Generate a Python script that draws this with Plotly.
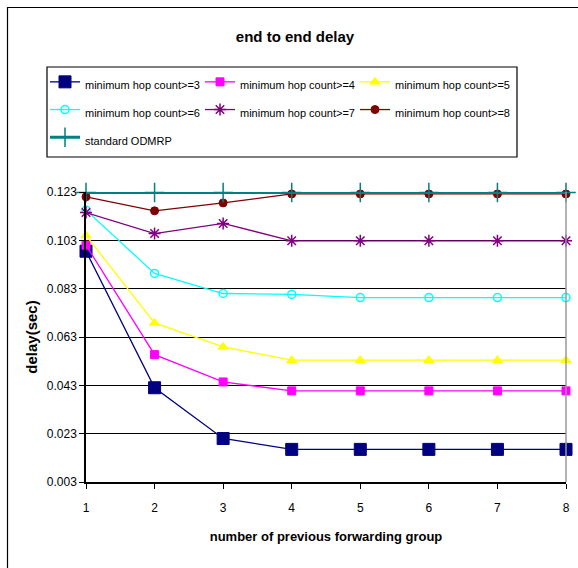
import plotly.graph_objects as go

x_vals = [1, 2, 3, 4, 5, 6, 7, 8]
hop3 = [0.0985, 0.0420, 0.0210, 0.0165, 0.0165, 0.0165, 0.0165, 0.0165]
hop4 = [0.1010, 0.0557, 0.0444, 0.0407, 0.0407, 0.0407, 0.0407, 0.0407]
hop5 = [0.1050, 0.0688, 0.0589, 0.0534, 0.0534, 0.0534, 0.0534, 0.0534]
hop6 = [0.1155, 0.0893, 0.0810, 0.0806, 0.0793, 0.0793, 0.0793, 0.0793]
hop7 = [0.1145, 0.1058, 0.1100, 0.1028, 0.1028, 0.1028, 0.1028, 0.1028]
hop8 = [0.1210, 0.1152, 0.1185, 0.1222, 0.1222, 0.1222, 0.1222, 0.1222]
standard = [0.1228, 0.1228, 0.1228, 0.1228, 0.1228, 0.1228, 0.1228, 0.1228]
y_ticks = [0.003, 0.023, 0.043, 0.063, 0.083, 0.103, 0.123]

FONT = "Liberation Sans, Arial, sans-serif"
LEG_TXT = '<span style="font-size:11px">{}</span>'

series = [
    ("minimum hop count>=3", hop3, "#000080", "square", 12, 1),
    ("minimum hop count>=4", hop4, "#FF00FF", "square", 8, 1),
    ("minimum hop count>=5", hop5, "#FFFF00", "triangle-up", 9, 1),
    ("minimum hop count>=6", hop6, "#00FFFF", "circle-open", 8, 1.5),
    ("minimum hop count>=7", hop7, "#800080", "asterisk-open", 10, 1.5),
    ("minimum hop count>=8", hop8, "#800000", "circle", 8, 1),
]

fig = go.Figure()
for name, ys, color, sym, size, lw in series:
    fig.add_trace(go.Scatter(
        x=x_vals, y=ys, name=LEG_TXT.format(name), mode="lines+markers",
        line=dict(color=color, width=1.3),
        marker=dict(symbol=sym, size=size, color=color,
                    line=dict(color=color, width=lw)),
        cliponaxis=False,
    ))
fig.add_trace(go.Scatter(
    x=x_vals, y=standard, name=LEG_TXT.format("standard ODMRP"), mode="lines+markers",
    line=dict(color="#008080", width=3),
    marker=dict(symbol="cross-thin-open", size=14, color="#008080",
                line=dict(color="#008080", width=1.5)),
    cliponaxis=False,
))

W, H = 578, 568
L, R, T, B = 86, 12, 192, 86
pw, ph = W - L - R, H - T - B

def px(xp):
    return (xp - L) / pw

def py(yp):
    return (H - B - yp) / ph

fig.update_layout(
    width=W, height=H,
    margin=dict(l=L, r=R, t=T, b=B, autoexpand=False),
    paper_bgcolor="white", plot_bgcolor="white",
    font=dict(family=FONT, color="black", size=12),
    title=dict(text="<b>end to end delay</b>", xref="container", x=295 / W,
               xanchor="center", yref="container", y=1 - 37 / H, yanchor="middle",
               font=dict(family=FONT, size=15, color="black")),
    showlegend=True,
    legend=dict(orientation="h", x=px(45), y=py(63), xanchor="left", yanchor="top",
                borderwidth=0, bgcolor="rgba(0,0,0,0)",
                font=dict(family=FONT, size=19, color="black"),
                entrywidth=110, entrywidthmode="pixels",
                tracegroupgap=0, itemwidth=30),
    xaxis=dict(range=[1, 8], tickmode="array", tickvals=x_vals,
               ticktext=[str(v) for v in x_vals],
               showgrid=False, zeroline=False,
               showline=True, linecolor="black", linewidth=1.5,
               ticks="outside", ticklen=5, tickcolor="black",
               ticklabelstandoff=9,
               tickfont=dict(family=FONT, size=12),
               title=dict(text="<b>number of previous forwarding group</b>",
                          font=dict(family=FONT, size=13), standoff=18)),
    yaxis=dict(range=[0.003, 0.123], tickmode="array", tickvals=y_ticks,
               ticktext=[f"{v:.3f}" for v in y_ticks],
               showgrid=True, gridcolor="black", gridwidth=1, zeroline=False,
               showline=True, linecolor="black", linewidth=1.5,
               ticks="outside", ticklen=5, tickcolor="black",
               tickfont=dict(family=FONT, size=12),
               title=dict(text="<b>delay(sec)</b>",
                          font=dict(family=FONT, size=15), standoff=6)),
    shapes=[
        dict(type="line", xref="paper", yref="paper", x0=1, x1=1, y0=0, y1=1,
             line=dict(color="#999999", width=1.5)),
        dict(type="rect", xref="paper", yref="paper",
             x0=px(7.5), x1=px(590), y0=py(590), y1=py(7.5),
             line=dict(color="black", width=1.2), layer="below"),
        dict(type="rect", xref="paper", yref="paper",
             x0=px(47), x1=px(517), y0=py(157), y1=py(67),
             line=dict(color="black", width=1.2), layer="below"),
    ],
)

fig.write_html("out.html", config={"displayModeBar": False},
               post_script="document.body.style.margin='0';")
